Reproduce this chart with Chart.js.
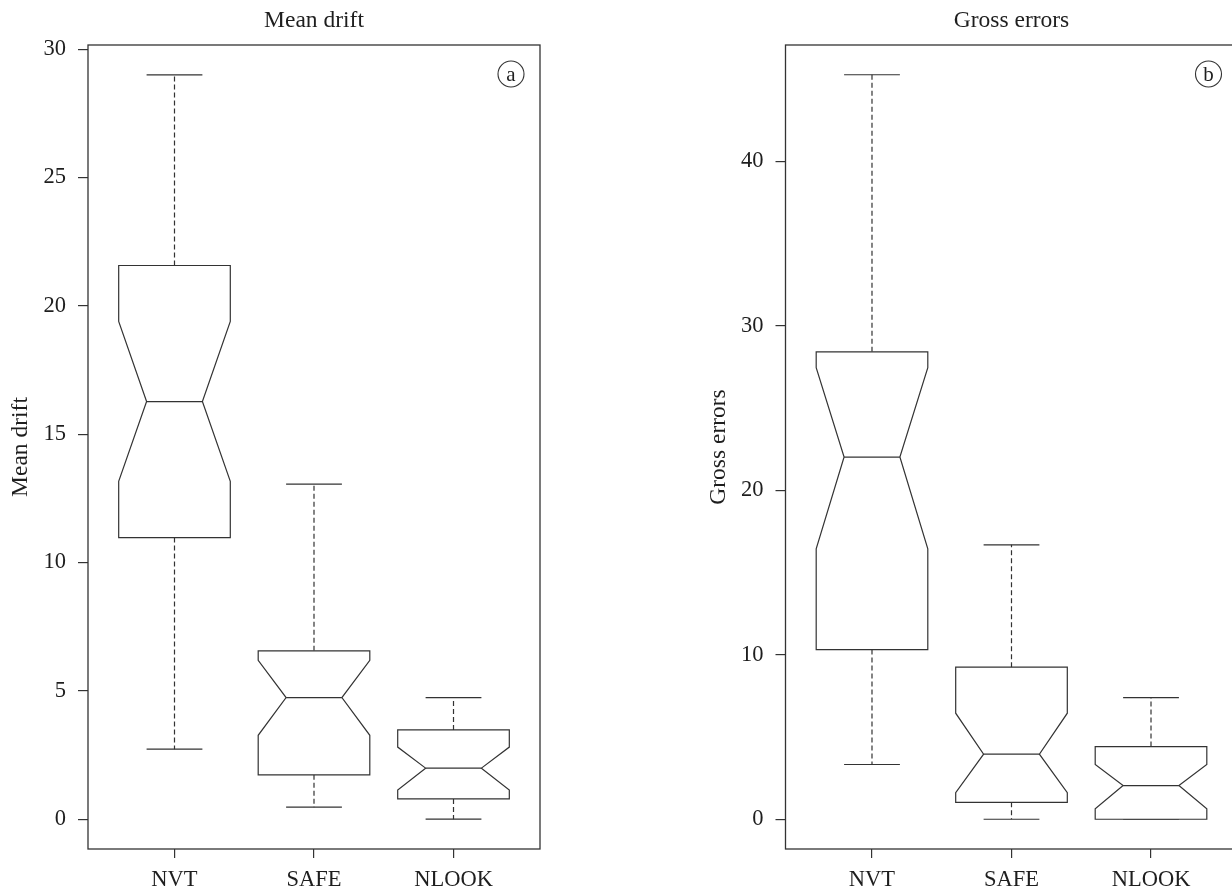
<!DOCTYPE html>
<html>
<head>
<meta charset="utf-8">
<script src="https://cdn.jsdelivr.net/npm/chart.js@4.4.1/dist/chart.umd.min.js"></script>
<style>
  html, body { margin: 0; padding: 0; background: #fff; }
  body { width: 1232px; height: 890px; overflow: hidden; position: relative; }
  canvas { position: absolute; top: 0; }
</style>
</head>
<body>
<canvas id="driftChart" width="616" height="890" style="left:0"></canvas>
<canvas id="grossChart" width="640" height="890" style="left:616px"></canvas>
<script>
const categories = ['NVT', 'SAFE', 'NLOOK'];

// Mean drift (panel a)
const driftWhiskerLow = [2.73, 0.47, 0];
const driftQ1 = [10.97, 1.73, 0.79];
const driftNotchLow = [13.16, 3.27, 1.14];
const driftMedian = [16.27, 4.74, 1.99];
const driftNotchHigh = [19.39, 6.19, 2.81];
const driftQ3 = [21.57, 6.56, 3.48];
const driftWhiskerHigh = [29.0, 13.05, 4.74];
const driftTicks = [0, 5, 10, 15, 20, 25, 30];

// Gross errors (panel b)
const grossWhiskerLow = [3.33, 0, 0];
const grossQ1 = [10.32, 1.03, 0];
const grossNotchLow = [16.45, 1.62, 0.63];
const grossMedian = [22.03, 3.96, 2.05];
const grossNotchHigh = [27.46, 6.45, 3.33];
const grossQ3 = [28.43, 9.25, 4.42];
const grossWhiskerHigh = [45.28, 16.69, 7.40];
const grossTicks = [0, 10, 20, 30, 40];

const ink = '#333333';
const textInk = '#1e1e1e';
const fontFamily = '"Liberation Serif", "DejaVu Serif", serif';

// notched boxes drawn through the chart's scales
const notchBoxPlugin = {
    id: 'notchBox',
    afterDatasetsDraw(chart) {
        const ctx = chart.ctx;
        const xs = chart.scales.x;
        const ys = chart.scales.y;
        const b = chart.options.plugins.notchBox;
        const area = chart.chartArea;

        ctx.save();
        ctx.strokeStyle = ink;
        ctx.lineWidth = 1.2;

        for (let i = 0; i < categories.length; i++) {
            const cx = xs.getPixelForValue(i + 1);
            const hw = xs.getPixelForValue(i + 1 + b.boxWidth / 2) - cx;
            const yQ1 = ys.getPixelForValue(b.q1[i]);
            const yQ3 = ys.getPixelForValue(b.q3[i]);
            const yMed = ys.getPixelForValue(b.median[i]);
            const yNl = ys.getPixelForValue(b.notchLow[i]);
            const yNh = ys.getPixelForValue(b.notchHigh[i]);
            const yWl = ys.getPixelForValue(b.whiskerLow[i]);
            const yWh = ys.getPixelForValue(b.whiskerHigh[i]);

            // whiskers
            ctx.setLineDash([5, 3]);
            ctx.beginPath();
            ctx.moveTo(cx, yQ3);
            ctx.lineTo(cx, yWh);
            ctx.moveTo(cx, yQ1);
            ctx.lineTo(cx, yWl);
            ctx.stroke();
            ctx.setLineDash([]);

            ctx.beginPath();
            ctx.moveTo(cx - hw / 2, yWh);
            ctx.lineTo(cx + hw / 2, yWh);
            ctx.moveTo(cx - hw / 2, yWl);
            ctx.lineTo(cx + hw / 2, yWl);
            ctx.stroke();

            // box with notch
            ctx.fillStyle = '#ffffff';
            ctx.beginPath();
            ctx.moveTo(cx - hw, yQ3);
            ctx.lineTo(cx - hw, yNh);
            ctx.lineTo(cx - hw / 2, yMed);
            ctx.lineTo(cx - hw, yNl);
            ctx.lineTo(cx - hw, yQ1);
            ctx.lineTo(cx + hw, yQ1);
            ctx.lineTo(cx + hw, yNl);
            ctx.lineTo(cx + hw / 2, yMed);
            ctx.lineTo(cx + hw, yNh);
            ctx.lineTo(cx + hw, yQ3);
            ctx.closePath();
            ctx.fill();
            ctx.stroke();

            // median
            ctx.beginPath();
            ctx.moveTo(cx - hw / 2, yMed);
            ctx.lineTo(cx + hw / 2, yMed);
            ctx.stroke();
        }

        // frame
        ctx.lineWidth = 1.3;
        ctx.strokeRect(area.left, area.top, area.right - area.left, area.bottom - area.top);

        // panel letter
        const px = area.right - 29;
        const py = area.top + 29;
        ctx.lineWidth = 1.1;
        ctx.beginPath();
        ctx.arc(px, py, 13, 0, Math.PI * 2);
        ctx.stroke();
        ctx.fillStyle = textInk;
        ctx.font = '21px ' + fontFamily;
        ctx.textAlign = 'center';
        ctx.textBaseline = 'middle';
        ctx.fillText(b.letter, px, py + 1);
        ctx.restore();
    }
};

function makePanel(canvasId, cfg) {
    const ctx = document.getElementById(canvasId);
    return new Chart(ctx, {
        type: 'scatter',
        data: {
            datasets: [{
                data: cfg.median.map((m, i) => ({ x: i + 1, y: m })),
                pointRadius: 0,
                showLine: false
            }]
        },
        options: {
            responsive: false,
            animation: false,
            devicePixelRatio: 1,
            layout: {
                padding: { left: 0, right: cfg.padRight, top: 0, bottom: 0 }
            },
            scales: {
                x: {
                    type: 'linear',
                    min: 0.38,
                    max: 3.62,
                    afterBuildTicks: (axis) => {
                        axis.ticks = categories.map((c, i) => ({ value: i + 1 }));
                    },
                    afterFit: (axis) => { axis.height = 41; },
                    ticks: {
                        callback: (v) => categories[v - 1],
                        color: textInk,
                        font: { family: fontFamily, size: 22.5 },
                        padding: 9,
                        maxRotation: 0
                    },
                    grid: {
                        display: true,
                        drawOnChartArea: false,
                        drawTicks: true,
                        tickLength: 9,
                        color: ink,
                        lineWidth: 1.2
                    },
                    border: { display: false }
                },
                y: {
                    type: 'linear',
                    min: cfg.yMin,
                    max: cfg.yMax,
                    afterBuildTicks: (axis) => {
                        axis.ticks = cfg.ticks.map(v => ({ value: v }));
                    },
                    afterFit: (axis) => { axis.width = cfg.yWidth; },
                    ticks: {
                        color: textInk,
                        font: { family: fontFamily, size: 22.5 },
                        padding: 12
                    },
                    grid: {
                        display: true,
                        drawOnChartArea: false,
                        drawTicks: true,
                        tickLength: 10,
                        color: ink,
                        lineWidth: 1.2
                    },
                    border: { display: false },
                    title: {
                        display: true,
                        text: cfg.title,
                        color: textInk,
                        font: { family: fontFamily, size: 23.5 },
                        padding: { top: cfg.yTitlePad, bottom: 0 }
                    }
                }
            },
            plugins: {
                legend: { display: false },
                tooltip: { enabled: false },
                title: {
                    display: true,
                    text: cfg.title,
                    fullSize: false,
                    color: textInk,
                    font: { family: fontFamily, size: 23.5, weight: 'normal' },
                    padding: { top: 7, bottom: 9.8 }
                },
                notchBox: {
                    boxWidth: 0.8,
                    letter: cfg.letter,
                    q1: cfg.q1,
                    q3: cfg.q3,
                    median: cfg.median,
                    notchLow: cfg.notchLow,
                    notchHigh: cfg.notchHigh,
                    whiskerLow: cfg.whiskerLow,
                    whiskerHigh: cfg.whiskerHigh
                }
            }
        },
        plugins: [notchBoxPlugin]
    });
}

makePanel('driftChart', {
    title: 'Mean drift',
    letter: 'a',
    yMin: -1.16,
    yMax: 30.16,
    ticks: driftTicks,
    yWidth: 88,
    yTitlePad: 7,
    padRight: 76,
    q1: driftQ1,
    q3: driftQ3,
    median: driftMedian,
    notchLow: driftNotchLow,
    notchHigh: driftNotchHigh,
    whiskerLow: driftWhiskerLow,
    whiskerHigh: driftWhiskerHigh
});

makePanel('grossChart', {
    title: 'Gross errors',
    letter: 'b',
    yMin: -1.81,
    yMax: 47.09,
    ticks: grossTicks,
    yWidth: 169.5,
    yTitlePad: 88.5,
    padRight: 18.5,
    q1: grossQ1,
    q3: grossQ3,
    median: grossMedian,
    notchLow: grossNotchLow,
    notchHigh: grossNotchHigh,
    whiskerLow: grossWhiskerLow,
    whiskerHigh: grossWhiskerHigh
});
</script>
</body>
</html>
